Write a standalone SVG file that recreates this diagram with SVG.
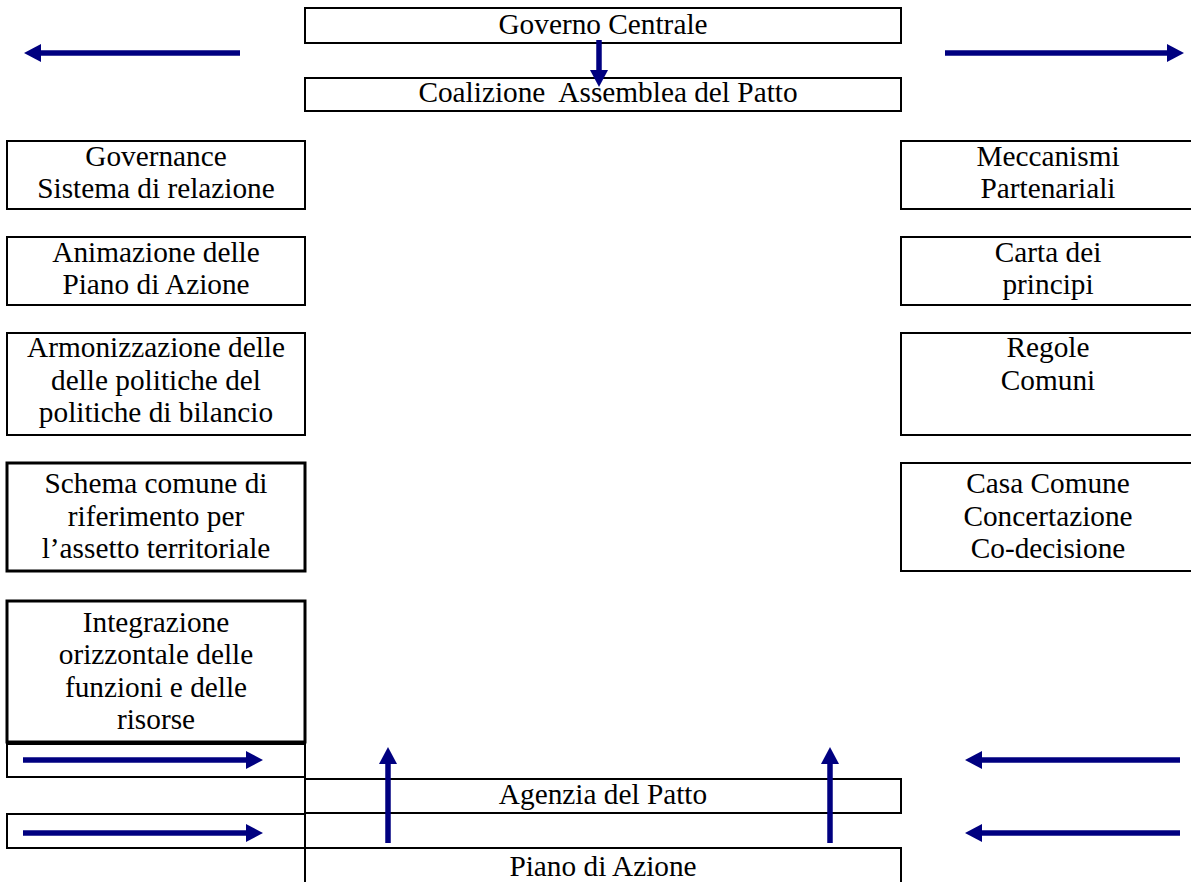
<svg xmlns="http://www.w3.org/2000/svg" width="1191" height="882" viewBox="0 0 1191 882">
<style>
  .box { fill: #ffffff; stroke: #000000; stroke-width: 2; }
  .thick { stroke-width: 3; }
  .lbl { font-family: "Times New Roman", "Liberation Serif", Times, "Nimbus Roman", "FreeSerif", "DejaVu Serif", serif; font-size: 29.3px; fill: #000000; text-anchor: middle; white-space: pre; }
  .arr { stroke: #000080; stroke-width: 5.5; fill: none; marker-end: url(#head); }
</style>
<defs>
  <marker id="head" markerUnits="userSpaceOnUse" markerWidth="18" markerHeight="18" refX="0" refY="9" orient="auto" viewBox="0 0 18 18">
    <path d="M0,0 L17,9 L0,18 Z" fill="#000080"/>
  </marker>
</defs>
<rect width="1191" height="882" fill="#ffffff"/>

<g id="governo-centrale">
  <rect class="box" x="305" y="8" width="596" height="35"/>
  <text class="lbl" x="603" y="34">Governo Centrale</text>
</g>
<g id="coalizione">
  <rect class="box" x="305" y="78" width="596" height="33"/>
  <text class="lbl" x="608" y="102">Coalizione  Assemblea del Patto</text>
</g>

<g id="governance">
  <rect class="box" x="7" y="141" width="298" height="68"/>
  <text class="lbl" x="156" y="166">Governance</text>
  <text class="lbl" x="156" y="198">Sistema di relazione</text>
</g>
<g id="animazione">
  <rect class="box" x="7" y="237" width="298" height="68"/>
  <text class="lbl" x="156" y="262">Animazione delle</text>
  <text class="lbl" x="156" y="294">Piano di Azione</text>
</g>
<g id="armonizzazione">
  <rect class="box" x="7" y="333" width="298" height="102"/>
  <text class="lbl" x="156" y="357">Armonizzazione delle</text>
  <text class="lbl" x="156" y="389.5">delle politiche del</text>
  <text class="lbl" x="156" y="422">politiche di bilancio</text>
</g>
<g id="schema">
  <rect class="box thick" x="7" y="463" width="298" height="108"/>
  <text class="lbl" x="156" y="493">Schema comune di</text>
  <text class="lbl" x="156" y="525.5">riferimento per</text>
  <text class="lbl" x="156" y="558">l’assetto territoriale</text>
</g>
<g id="integrazione">
  <rect class="box thick" x="7" y="601" width="298" height="141"/>
  <text class="lbl" x="156" y="632">Integrazione</text>
  <text class="lbl" x="156" y="664">orizzontale delle</text>
  <text class="lbl" x="156" y="696.5">funzioni e delle</text>
  <text class="lbl" x="156" y="729">risorse</text>
</g>

<g id="meccanismi">
  <rect class="box" x="901" y="141" width="298" height="68"/>
  <text class="lbl" x="1048" y="166">Meccanismi</text>
  <text class="lbl" x="1048" y="198">Partenariali</text>
</g>
<g id="carta">
  <rect class="box" x="901" y="237" width="298" height="68"/>
  <text class="lbl" x="1048" y="262">Carta dei</text>
  <text class="lbl" x="1048" y="294">principi</text>
</g>
<g id="regole">
  <rect class="box" x="901" y="333" width="298" height="102"/>
  <text class="lbl" x="1048" y="357">Regole</text>
  <text class="lbl" x="1048" y="389.5">Comuni</text>
</g>
<g id="casa-comune">
  <rect class="box" x="901" y="463" width="298" height="108"/>
  <text class="lbl" x="1048" y="493">Casa Comune</text>
  <text class="lbl" x="1048" y="525.5">Concertazione</text>
  <text class="lbl" x="1048" y="558">Co-decisione</text>
</g>

<g id="left-strip-1">
  <rect class="box" x="7" y="744" width="298" height="33"/>
</g>
<g id="agenzia">
  <rect class="box" x="305" y="779" width="596" height="34"/>
  <text class="lbl" x="603" y="804">Agenzia del Patto</text>
</g>
<g id="left-strip-2">
  <rect class="box" x="7" y="814" width="298" height="34"/>
</g>
<g id="piano">
  <rect class="box" x="305" y="848" width="596" height="60"/>
  <text class="lbl" x="603" y="876">Piano di Azione</text>
</g>

<g id="connectors">
  <line class="arr" x1="240" y1="53" x2="41" y2="53"/>
  <line class="arr" x1="945" y1="53" x2="1167" y2="53"/>
  <line class="arr" x1="599" y1="40" x2="599" y2="70"/>
  <line class="arr" x1="23" y1="760" x2="246" y2="760"/>
  <line class="arr" x1="23" y1="833" x2="246" y2="833"/>
  <line class="arr" x1="388" y1="843" x2="388" y2="764"/>
  <line class="arr" x1="830" y1="843" x2="830" y2="764"/>
  <line class="arr" x1="1180" y1="760" x2="982" y2="760"/>
  <line class="arr" x1="1180" y1="833" x2="982" y2="833"/>
</g>
</svg>
